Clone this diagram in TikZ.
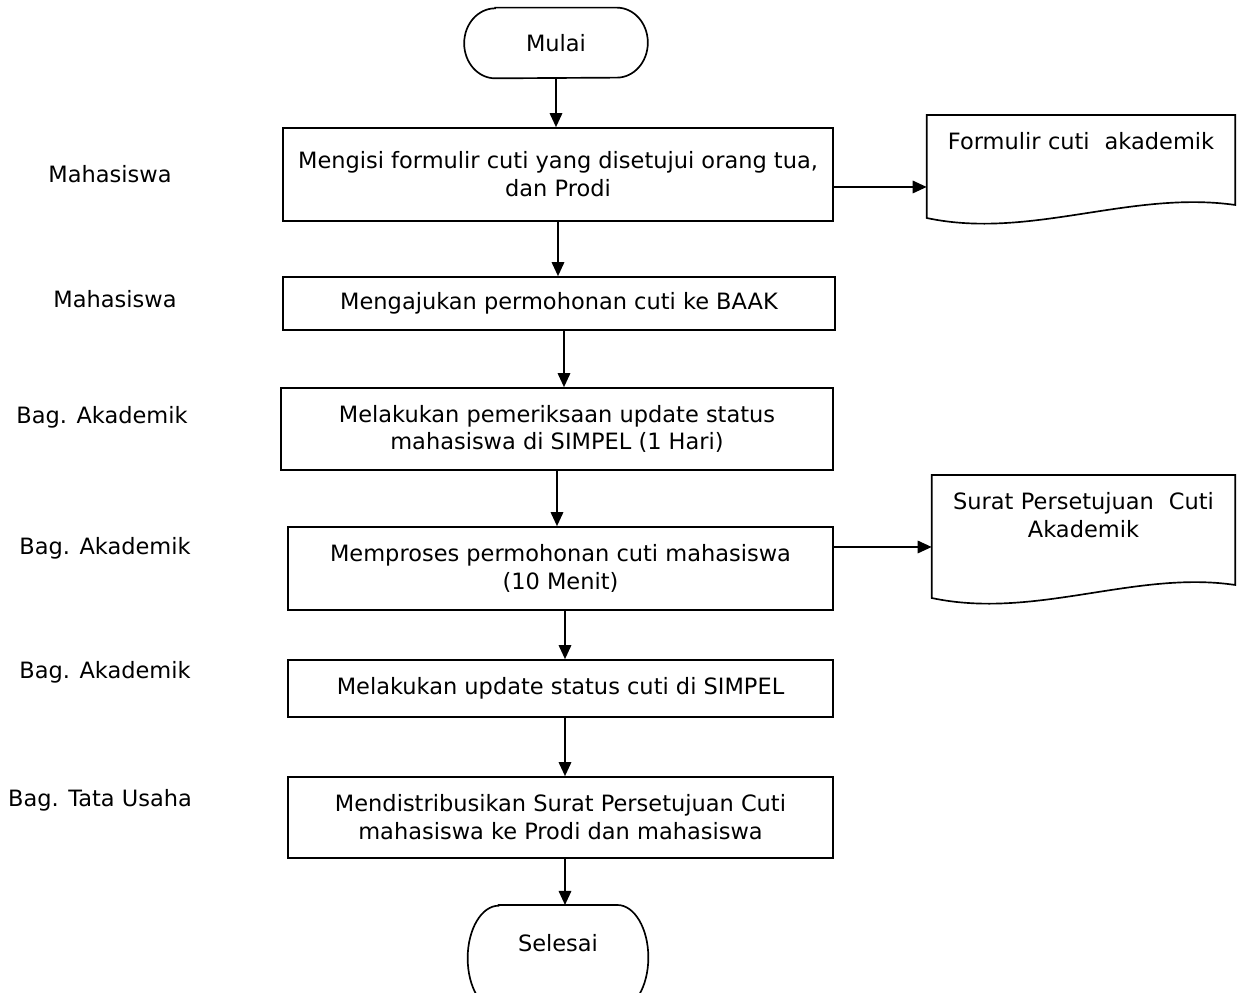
\documentclass[tikz,border=0pt]{standalone}
\usepackage{fontspec}
\setmainfont{DejaVu Sans}
\usetikzlibrary{arrows.meta,calc}

\begin{document}
\begin{tikzpicture}[x=0.02cm, y=0.02cm,
  font=\fontsize{12.8}{15.8}\selectfont,
  proc/.style={rectangle, draw, line width=0.95pt, align=center, inner sep=2pt},
  term/.style={rectangle, minimum width=3.66cm, align=center, inner sep=0pt},
  doctext/.style={anchor=north, align=center, inner xsep=0pt, inner ysep=0.35cm},
  lane/.style={align=center},
  outline/.style={line width=0.95pt},
  arr/.style={line width=0.95pt, -{Triangle[length=0.28cm, width=0.25cm]}}
]
\useasboundingbox (0,0) rectangle (1242,993);

% start / end
\node[term, minimum height=1.4cm] (mulai) at (556,950) {Mulai};
\draw[outline] ([xshift=0.62cm]mulai.north west) -- ([xshift=-0.62cm]mulai.north east)
  arc[start angle=90, end angle=-90, x radius=0.62cm, y radius=0.7cm]
  -- ([xshift=0.62cm]mulai.south west)
  arc[start angle=270, end angle=90, x radius=0.62cm, y radius=0.7cm] -- cycle;

\node[term, anchor=north, minimum width=3.6cm, minimum height=2.1cm, text height=0.35cm, text depth=0.59cm] (selesai) at (558,88) {Selesai};
\draw[outline] ([xshift=0.62cm]selesai.north west) -- ([xshift=-0.62cm]selesai.north east)
  arc[start angle=90, end angle=-90, x radius=0.62cm, y radius=1.05cm]
  -- ([xshift=0.62cm]selesai.south west)
  arc[start angle=270, end angle=90, x radius=0.62cm, y radius=1.05cm] -- cycle;

% process steps
\node[proc, minimum width=11cm, minimum height=1.86cm] (proc1) at (558,818.5) {Mengisi formulir cuti yang disetujui orang tua,\\ dan Prodi};
\node[proc, minimum width=11.04cm, minimum height=1.06cm] (proc2) at (559,689.5) {Mengajukan permohonan cuti ke BAAK};
\node[proc, minimum width=11.04cm, minimum height=1.64cm] (proc3) at (557,564) {Melakukan pemeriksaan update status\\ mahasiswa di SIMPEL (1 Hari)};
\node[proc, minimum width=10.9cm, minimum height=1.66cm] (proc4) at (560.5,424.5) {Memproses permohonan cuti mahasiswa\\ (10 Menit)};
\node[proc, minimum width=10.9cm, minimum height=1.14cm] (proc5) at (560.5,304.5) {Melakukan update status cuti di SIMPEL};
\node[proc, minimum width=10.9cm, minimum height=1.62cm] (proc6) at (560.5,175.5) {Mendistribusikan Surat Persetujuan Cuti\\ mahasiswa ke Prodi dan mahasiswa};

% documents
\node[doctext, text width=6.16cm] (doc1) at (1081,878) {Formulir cuti\ \ akademik};
\draw[outline] (doc1.north west) -- (doc1.north east) -- ($(doc1.north east)+(0,-90)$)
  .. controls ($(doc1.north east)+(-105,-75)$) and ($(doc1.north west)+(103,-125)$) .. ($(doc1.north west)+(0,-103)$) -- cycle;

\node[doctext, text width=6.06cm] (doc2) at (1083.5,518) {Surat Persetujuan\ \ Cuti\\ Akademik};
\draw[outline] (doc2.north west) -- (doc2.north east) -- ($(doc2.north east)+(0,-110)$)
  .. controls ($(doc2.north east)+(-100,-95)$) and ($(doc2.north west)+(103,-145)$) .. ($(doc2.north west)+(0,-123)$) -- cycle;

% actors
\node[lane] (lbl1) at (110,819) {Mahasiswa};
\node[lane] (lbl2) at (115,694) {Mahasiswa};
\node[lane] (lbl3) at (102,576) {Bag. Akademik};
\node[lane] (lbl4) at (105,445) {Bag. Akademik};
\node[lane] (lbl5) at (105,321) {Bag. Akademik};
\node[lane] (lbl6) at (100,193) {Bag. Tata Usaha};

% flow
\draw[arr] (mulai.south) -- (mulai.south |- proc1.north);
\draw[arr] (proc1.south) -- (proc1.south |- proc2.north);
\draw[arr] ([xshift=0.1cm]proc2.south) -- ([xshift=0.1cm]proc2.south |- proc3.north);
\draw[arr] (proc3.south) -- (proc3.south |- proc4.north);
\draw[arr] ([xshift=0.09cm]proc4.south) -- ([xshift=0.09cm]proc4.south |- proc5.north);
\draw[arr] ([xshift=0.09cm]proc5.south) -- ([xshift=0.09cm]proc5.south |- proc6.north);
\draw[arr] ([xshift=0.09cm]proc6.south) -- ([xshift=0.09cm]proc6.south |- selesai.north);
\draw[arr] ([yshift=-0.25cm]proc1.east) -- ([yshift=-0.25cm]proc1.east -| doc1.west);
\draw[arr] ([yshift=0.43cm]proc4.east) -- ([yshift=0.43cm]proc4.east -| doc2.west);
\end{tikzpicture}
\end{document}
